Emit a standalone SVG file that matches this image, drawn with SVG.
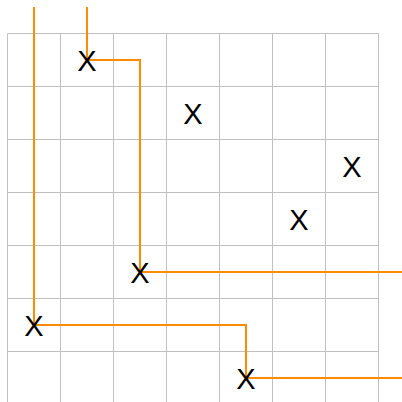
<svg xmlns="http://www.w3.org/2000/svg" width="402" height="402" viewBox="0 0 402 402">
<style>
.grid line{stroke:#c0c0c0;stroke-width:1}
.conn path{fill:none;stroke:#ff8c00;stroke-width:2}
.node text{font-family:"Liberation Sans",Arial,sans-serif;font-size:29px;fill:#000;text-anchor:middle}
</style>
<rect width="402" height="402" fill="#fff"/>
<g class="grid">
<line x1="7.5" y1="33.5" x2="7.5" y2="402"/>
<line x1="60.5" y1="33.5" x2="60.5" y2="402"/>
<line x1="113.5" y1="33.5" x2="113.5" y2="402"/>
<line x1="166.5" y1="33.5" x2="166.5" y2="402"/>
<line x1="219.5" y1="33.5" x2="219.5" y2="402"/>
<line x1="272.5" y1="33.5" x2="272.5" y2="402"/>
<line x1="325.5" y1="33.5" x2="325.5" y2="402"/>
<line x1="378.5" y1="33.5" x2="378.5" y2="402"/>
<line x1="7.5" y1="33.5" x2="378.5" y2="33.5"/>
<line x1="7.5" y1="86.5" x2="378.5" y2="86.5"/>
<line x1="7.5" y1="139.5" x2="378.5" y2="139.5"/>
<line x1="7.5" y1="192.5" x2="378.5" y2="192.5"/>
<line x1="7.5" y1="245.5" x2="378.5" y2="245.5"/>
<line x1="7.5" y1="298.5" x2="378.5" y2="298.5"/>
<line x1="7.5" y1="351.5" x2="378.5" y2="351.5"/>
</g>
<g class="conn" id="connectors">
<path d="M34,7 V325 H246 V378 H402"/>
<path d="M87,7 V60 H140 V272 H402"/>
</g>
<g class="node" id="n1"><text x="87" y="70.5">X</text></g>
<g class="node" id="n2"><text x="193" y="123.5">X</text></g>
<g class="node" id="n3"><text x="352" y="176.5">X</text></g>
<g class="node" id="n4"><text x="299" y="229.5">X</text></g>
<g class="node" id="n5"><text x="140" y="282.5">X</text></g>
<g class="node" id="n6"><text x="34" y="335.5">X</text></g>
<g class="node" id="n7"><text x="246" y="388.5">X</text></g>
</svg>
